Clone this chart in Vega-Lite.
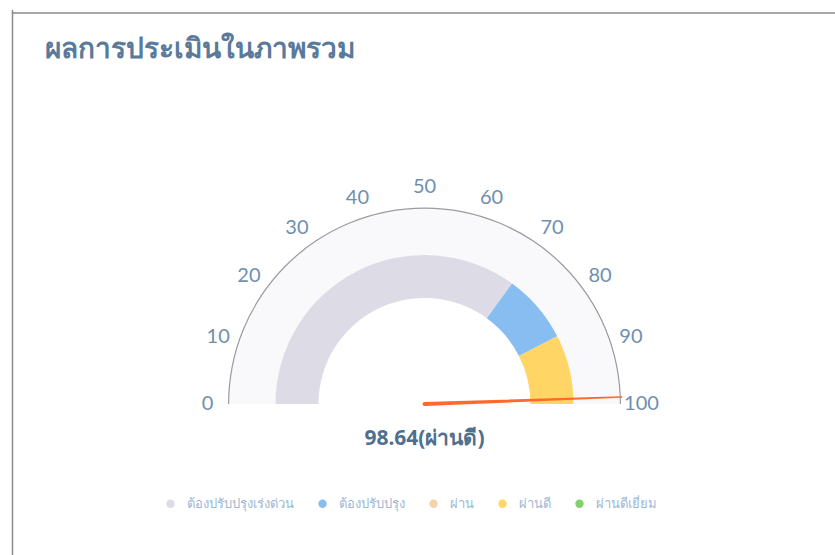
{
  "$schema": "https://vega.github.io/schema/vega-lite/v6.json",
  "width": 835,
  "height": 555,
  "autosize": {"type": "none"},
  "padding": 0,
  "background": "white",
  "config": {"view": {"stroke": null}, "font": "Noto Sans"},
  "title": {
    "text": "ผลการประเมินในภาพรวม",
    "anchor": "start",
    "frame": "group",
    "orient": "top",
    "offset": 0,
    "dx": 45,
    "dy": 86,
    "baseline": "alphabetic",
    "fontSize": 28,
    "fontWeight": "bold",
    "color": "#5a7a9b",
    "font": "Noto Sans"
  },
  "datasets": {
    "bands": [
      {"category": "ต้องปรับปรุงเร่งด่วน", "start": 0, "end": 70},
      {"category": "ต้องปรับปรุง", "start": 70, "end": 85},
      {"category": "ผ่าน", "start": 85, "end": 85},
      {"category": "ผ่านดี", "start": 85, "end": 100},
      {"category": "ผ่านดีเยี่ยม", "start": 100, "end": 100}
    ],
    "ticks": [
      {"v": 0}, {"v": 10}, {"v": 20}, {"v": 30}, {"v": 40}, {"v": 50},
      {"v": 60}, {"v": 70}, {"v": 80}, {"v": 90}, {"v": 100}
    ],
    "needle": [
      {"px": 0, "py": 0, "w": 4},
      {"px": 197, "py": 7, "w": 1}
    ],
    "score": [{"value": 98.64, "label": "98.64(ผ่านดี)"}],
    "frame": [
      {"x1": -412, "x2": 410.5, "y1": 391, "y2": 391},
      {"x1": -412, "x2": -412, "y1": 394, "y2": -151}
    ]
  },
  "layer": [
    {
      "data": {"values": [{"s": 0, "e": 100}]},
      "mark": {"type": "arc", "radius": 196, "radius2": 149, "fill": "#f9f9fb"},
      "encoding": {
        "x": {"datum": 0, "type": "quantitative", "scale": {"domain": [-424.5, 410.5]}, "axis": null},
        "y": {"datum": 0, "type": "quantitative", "scale": {"domain": [-151, 404]}, "axis": null},
        "theta": {"field": "s", "type": "quantitative", "stack": null, "scale": {"domain": [0, 100], "range": [-1.5708, 1.5708]}},
        "theta2": {"field": "e"}
      }
    },
    {
      "data": {"values": [{"s": 0, "e": 100}]},
      "mark": {"type": "arc", "radius": 196.5, "radius2": 195.3, "fill": "#9a9aa2"},
      "encoding": {
        "x": {"datum": 0, "type": "quantitative", "scale": {"domain": [-424.5, 410.5]}, "axis": null},
        "y": {"datum": 0, "type": "quantitative", "scale": {"domain": [-151, 404]}, "axis": null},
        "theta": {"field": "s", "type": "quantitative", "stack": null, "scale": {"domain": [0, 100], "range": [-1.5708, 1.5708]}},
        "theta2": {"field": "e"}
      }
    },
    {
      "data": {"name": "bands"},
      "mark": {"type": "arc", "radius": 149, "radius2": 106},
      "encoding": {
        "x": {"datum": 0, "type": "quantitative", "scale": {"domain": [-424.5, 410.5]}, "axis": null},
        "y": {"datum": 0, "type": "quantitative", "scale": {"domain": [-151, 404]}, "axis": null},
        "theta": {"field": "start", "type": "quantitative", "stack": null, "scale": {"domain": [0, 100], "range": [-1.5708, 1.5708]}},
        "theta2": {"field": "end"},
        "color": {
          "field": "category",
          "type": "nominal",
          "scale": {
            "domain": ["ต้องปรับปรุงเร่งด่วน", "ต้องปรับปรุง", "ผ่าน", "ผ่านดี", "ผ่านดีเยี่ยม"],
            "range": ["#dddce6", "#88bdf1", "#f7d2a8", "#ffd566", "#84d16a"]
          },
          "legend": {
            "orient": "none",
            "legendX": 164,
            "legendY": 497,
            "direction": "horizontal",
            "title": null,
            "symbolType": "circle",
            "symbolSize": 70,
            "symbolStrokeWidth": 0,
            "labelFontSize": 13,
            "labelColor": "#9db8d6",
            "labelOffset": 10,
            "columnPadding": 22,
            "labelFont": "Noto Sans"
          }
        }
      }
    },
    {
      "data": {"name": "ticks"},
      "mark": {"type": "text", "radius": 217, "fontSize": 20, "color": "#6f8fae", "align": "center", "baseline": "middle", "font": "Lato"},
      "encoding": {
        "x": {"datum": 0, "type": "quantitative", "scale": {"domain": [-424.5, 410.5]}, "axis": null},
        "y": {"datum": 0, "type": "quantitative", "scale": {"domain": [-151, 404]}, "axis": null},
        "theta": {"field": "v", "type": "quantitative", "stack": null, "scale": {"domain": [0, 100], "range": [-1.5708, 1.5708]}},
        "text": {"field": "v", "type": "quantitative"}
      }
    },
    {
      "data": {"name": "needle"},
      "mark": {"type": "trail", "color": "#ff6a2a"},
      "encoding": {
        "x": {"field": "px", "type": "quantitative", "scale": {"domain": [-424.5, 410.5]}, "axis": null},
        "y": {"field": "py", "type": "quantitative", "scale": {"domain": [-151, 404]}, "axis": null},
        "size": {"field": "w", "type": "quantitative", "scale": {"type": "identity"}, "legend": null}
      }
    },
    {
      "data": {"name": "score"},
      "mark": {"type": "text", "dy": 35, "fontSize": 21, "fontWeight": "bold", "color": "#4f6f8f", "align": "center", "baseline": "middle", "font": "Noto Sans"},
      "encoding": {
        "x": {"datum": 0, "type": "quantitative", "scale": {"domain": [-424.5, 410.5]}, "axis": null},
        "y": {"datum": 0, "type": "quantitative", "scale": {"domain": [-151, 404]}, "axis": null},
        "text": {"field": "label"}
      }
    },
    {
      "data": {"name": "frame"},
      "mark": {"type": "rule", "color": "#8a8a8a", "strokeWidth": 1.5},
      "encoding": {
        "x": {"field": "x1", "type": "quantitative", "scale": {"domain": [-424.5, 410.5]}, "axis": null},
        "x2": {"field": "x2"},
        "y": {"field": "y1", "type": "quantitative", "scale": {"domain": [-151, 404]}, "axis": null},
        "y2": {"field": "y2"}
      }
    }
  ]
}
